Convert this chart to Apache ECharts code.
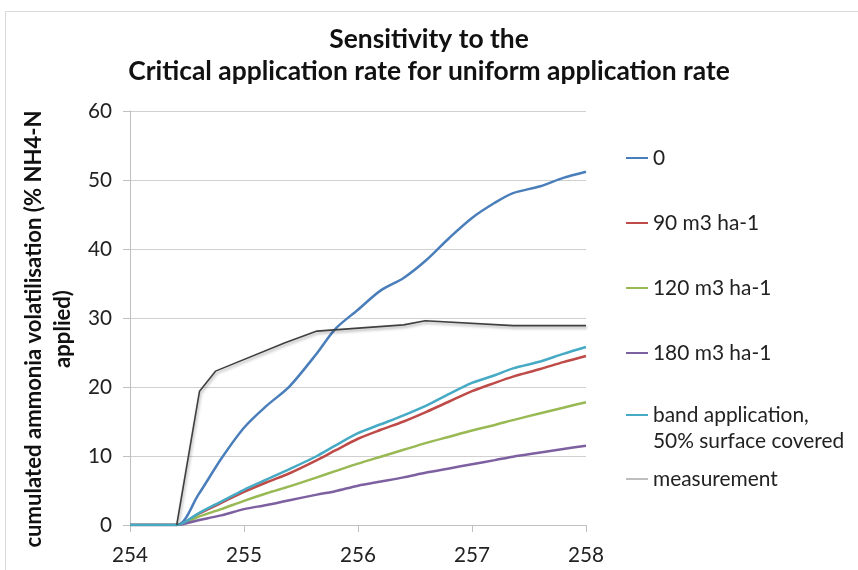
<!DOCTYPE html>
<html>
<head>
<meta charset="utf-8">
<script src="https://cdn.jsdelivr.net/npm/echarts@6/dist/echarts.min.js"></script>
<style>
html,body{margin:0;padding:0;background:#fff;}
#chart{width:858px;height:570px;}
</style>
</head>
<body>
<div id="chart"></div>
<script>
// ---- data ----
const titleLines = ['Sensitivity to the', 'Critical application rate for uniform application rate'];
const yAxisTitleLines = ['cumulated ammonia volatilisation (% NH4-N', 'applied)'];
const xTicks = [254, 255, 256, 257, 258];
const yTicks = [0, 10, 20, 30, 40, 50, 60];

const seriesNames = ['0', '90 m3 ha-1', '120 m3 ha-1', '180 m3 ha-1', 'band application, 50% surface covered', 'measurement'];

const xSim = [254, 254.41, 254.6, 254.8, 255, 255.2, 255.4, 255.64, 255.8, 256, 256.2, 256.4, 256.6, 256.8, 257, 257.2, 257.36, 257.6, 257.8, 258];
const rate0   = [0, 0, 4.4, 9.6, 14.1, 17.3, 20.1, 24.9, 28.4, 31.2, 34.0, 35.8, 38.4, 41.6, 44.5, 46.7, 48.1, 49.1, 50.3, 51.2];
const rate90  = [0, 0, 1.6, 3.2, 4.8, 6.2, 7.5, 9.4, 10.8, 12.5, 13.8, 15.0, 16.4, 17.9, 19.4, 20.6, 21.5, 22.6, 23.6, 24.5];
const rate120 = [0, 0, 1.2, 2.3, 3.5, 4.6, 5.6, 6.9, 7.8, 8.9, 9.9, 10.9, 11.9, 12.8, 13.7, 14.5, 15.2, 16.2, 17.0, 17.8];
const rate180 = [0, 0, 0.7, 1.4, 2.3, 2.9, 3.6, 4.4, 4.9, 5.7, 6.3, 6.9, 7.6, 8.2, 8.8, 9.4, 9.9, 10.5, 11.0, 11.5];
const band50  = [0, 0, 1.7, 3.4, 5.1, 6.6, 8.1, 10.0, 11.5, 13.3, 14.6, 15.9, 17.3, 19.0, 20.6, 21.7, 22.7, 23.7, 24.8, 25.8];

const xMeas = [254.41, 254.61, 254.75, 255.36, 255.64, 256.4, 256.59, 257.36, 258];
const meas  = [0, 19.4, 22.3, 26.4, 28.1, 29.0, 29.6, 28.9, 28.9];

const colors = ['#4a7ebb', '#be4b48', '#98b954', '#7d60a0', '#46aac5', '#404040'];
const measLegendColor = '#bfbfbf';

function pairs(xs, ys) { return xs.map((x, i) => [x, ys[i]]); }

const FONT = 'Lato';
// pick font sizes so text widths match the reference
const mctx = document.createElement('canvas').getContext('2d');
function fitSize(text, weight, target) {
  mctx.font = weight + ' 100px ' + FONT;
  const w = mctx.measureText(text).width;
  return Math.round(100 * target / w * 10) / 10;
}
const titleSize = fitSize(titleLines[1], 'bold', 601);
const yNameSize = fitSize(yAxisTitleLines[0], 'bold', 438);
const legendSize = fitSize(seriesNames[1], 'normal', 106);
const tickSize = fitSize('254', 'normal', 36);

const chart = echarts.init(document.getElementById('chart'), null, {renderer: 'canvas'});
const simData = [rate0, rate90, rate120, rate180, band50];

const series = simData.map((d, i) => ({
  name: seriesNames[i],
  type: 'line',
  data: pairs(xSim, d),
  symbol: 'none',
  smooth: 0.3,
  lineStyle: {width: 2.5, color: colors[i]},
  itemStyle: {color: colors[i]},
  z: 2 + i
}));
series.push({
  name: seriesNames[5],
  type: 'line',
  data: pairs(xMeas, meas),
  symbol: 'none',
  smooth: false,
  lineStyle: {width: 1.6, color: colors[5], shadowColor: 'rgba(0,0,0,0.35)', shadowBlur: 3, shadowOffsetX: 1, shadowOffsetY: 2},
  itemStyle: {color: colors[5]},
  z: 10
});

const iconPath = 'path://M0,0L22,0L22,2L0,2Z';
const legendText = {fontFamily: FONT, fontSize: legendSize, color: '#222'};

const option = {
  animation: false,
  backgroundColor: '#fff',
  title: {
    text: titleLines.join('\n'),
    left: 'center',
    top: 23,
    padding: [0, 0, 0, 22],
    textStyle: {fontFamily: FONT, fontWeight: 'bold', fontSize: titleSize, lineHeight: 32, color: '#111'}
  },
  graphic: [{
    type: 'rect', silent: true,
    shape: {x: 5.5, y: 11.5, width: 900, height: 600},
    style: {fill: 'none', stroke: '#d9d9d9', lineWidth: 1}
  }],
  legend: [{
    orient: 'vertical', left: 626, top: 146, padding: 0, itemGap: 41,
    itemWidth: 22, itemHeight: 2, icon: iconPath,
    textStyle: Object.assign({lineHeight: 24}, legendText),
    data: seriesNames.slice(0, 4)
  }, {
    orient: 'vertical', left: 626, top: 376, padding: 0, itemGap: 12,
    itemWidth: 22, itemHeight: 2, icon: iconPath,
    textStyle: Object.assign({lineHeight: 26}, legendText),
    formatter: function (name) {
      return name === seriesNames[4] ? '\n' + 'band application,\n50% surface covered' : name;
    },
    data: [seriesNames[4], {name: seriesNames[5], itemStyle: {color: measLegendColor}}]
  }],
  grid: {left: 130, right: 272, top: 111, bottom: 45, containLabel: false, outerBoundsMode: 'none'},
  xAxis: {
    type: 'value', min: xTicks[0], max: xTicks[xTicks.length - 1], interval: 1,
    axisLine: {show: true, lineStyle: {color: '#bfbfbf', width: 1}},
    axisTick: {show: true, inside: false, length: 7, lineStyle: {color: '#bfbfbf'}},
    axisLabel: {fontFamily: FONT, fontSize: tickSize, color: '#222', margin: 20},
    splitLine: {show: false}
  },
  yAxis: {
    type: 'value', min: yTicks[0], max: yTicks[yTicks.length - 1], interval: 10,
    name: yAxisTitleLines.join('\n'), nameLocation: 'middle', nameRotate: 90, nameGap: 48,
    nameTextStyle: {fontFamily: FONT, fontWeight: 'bold', fontSize: yNameSize, lineHeight: 29, color: '#111', padding: [0, 22, 0, 0]},
    axisLine: {show: true, lineStyle: {color: '#bfbfbf', width: 1}},
    axisTick: {show: true, inside: false, length: 7, lineStyle: {color: '#bfbfbf'}},
    axisLabel: {fontFamily: FONT, fontSize: tickSize, color: '#222', margin: 18},
    splitLine: {show: true, lineStyle: {color: '#d0d0d0', width: 1}}
  },
  series: series
};
chart.setOption(option);
</script>
</body>
</html>
